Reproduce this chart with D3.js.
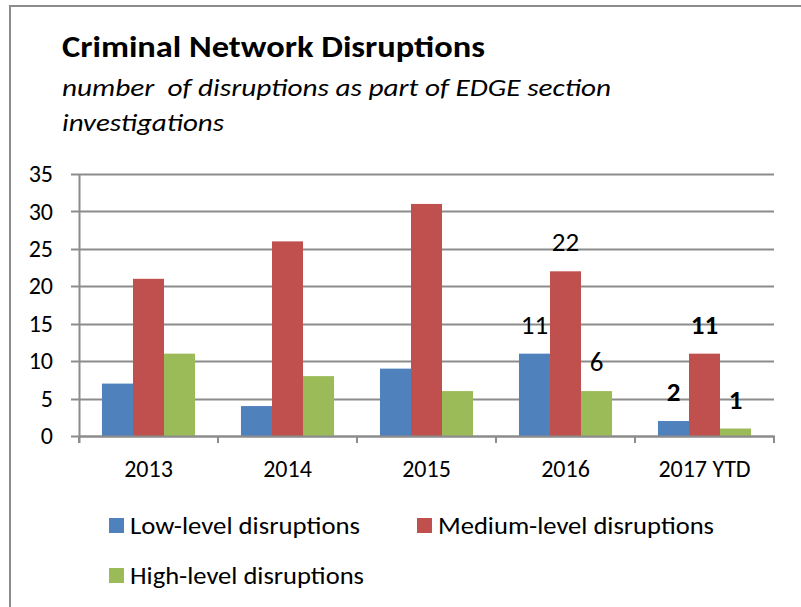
<!DOCTYPE html>
<html>
<head>
<meta charset="utf-8">
<script src="https://cdn.jsdelivr.net/npm/d3@7"></script>
<style>
  body { margin: 0; background: #fff; }
  svg text { font-family: Carlito, Calibri, "Open Sans", sans-serif; fill: #000; }
</style>
</head>
<body>
<div id="chart"></div>
<script>
// chart data
const years = ["2013", "2014", "2015", "2016", "2017 YTD"];
const seriesNames = ["Low-level disruptions", "Medium-level disruptions", "High-level disruptions"];
const lowLevel = [7, 4, 9, 11, 2];
const mediumLevel = [21, 26, 31, 22, 11];
const highLevel = [11, 8, 6, 6, 1];
const yTicks = [0, 5, 10, 15, 20, 25, 30, 35];
const colors = ["#4F81BD", "#C0504D", "#9BBB59"];

// which years get value labels, and whether they are bold
const labelledYears = [{ idx: 3, bold: false }, { idx: 4, bold: true }];

const W = 801, H = 607;
const plotLeft = 79, plotRight = 774, plotTop = 174, plotBottom = 436;

const svg = d3.select("#chart").append("svg")
  .attr("width", W).attr("height", H);

svg.append("rect").attr("width", W).attr("height", H).attr("fill", "#fff");

// outer frame (runs off the right and bottom edges)
svg.append("rect")
  .attr("x", 10).attr("y", 6)
  .attr("width", 900).attr("height", 800)
  .attr("fill", "none").attr("stroke", "#8c8c8c").attr("stroke-width", 2);

// title
svg.append("text")
  .attr("x", 62).attr("y", 57)
  .attr("font-size", 30).attr("font-weight", "bold")
  .attr("textLength", 423).attr("lengthAdjust", "spacingAndGlyphs")
  .text("Criminal Network Disruptions");
svg.append("text")
  .attr("x", 62).attr("y", 96)
  .attr("font-size", 24).attr("font-style", "italic")
  .attr("textLength", 549).attr("lengthAdjust", "spacingAndGlyphs")
  .style("white-space", "pre")
  .text("number  of disruptions as part of EDGE section");
svg.append("text")
  .attr("x", 62).attr("y", 131)
  .attr("font-size", 24).attr("font-style", "italic")
  .attr("textLength", 162).attr("lengthAdjust", "spacingAndGlyphs")
  .text("investigations");

// scales
const x0 = d3.scaleBand().domain(years).range([plotLeft, plotRight]);
const x1 = d3.scaleBand().domain(seriesNames).range([0, x0.bandwidth()]).paddingOuter(0.74);
const y = d3.scaleLinear().domain([0, 35]).range([plotBottom, plotTop]);

// gridlines
svg.append("g").selectAll("line").data(yTicks).join("line")
  .attr("x1", plotLeft - 8).attr("x2", plotRight)
  .attr("y1", d => Math.round(y(d)) + 0.5).attr("y2", d => Math.round(y(d)) + 0.5)
  .attr("stroke", "#8c8c8c").attr("stroke-width", 2);

// y axis labels
const yAxis = svg.append("g")
  .attr("transform", `translate(${plotLeft},0)`)
  .call(d3.axisLeft(y).tickValues(yTicks).tickSize(0).tickPadding(26));
yAxis.select(".domain").remove();
yAxis.selectAll("text").attr("font-size", 24).attr("fill", "#000")
  .style("font-family", 'Carlito, Calibri, "Open Sans", sans-serif');

// bars
const series = [lowLevel, mediumLevel, highLevel];
const groups = svg.append("g").selectAll("g").data(years).join("g")
  .attr("transform", d => `translate(${x0(d)},0)`);
groups.selectAll("rect")
  .data((d, i) => seriesNames.map((s, j) => ({ name: s, value: series[j][i], color: colors[j] })))
  .join("rect")
  .attr("x", d => x1(d.name))
  .attr("width", x1.bandwidth())
  .attr("y", d => y(d.value))
  .attr("height", d => y(0) - y(d.value))
  .attr("fill", d => d.color);

// value labels
labelledYears.forEach(l => {
  seriesNames.forEach((s, j) => {
    const v = series[j][l.idx];
    svg.append("text")
      .attr("x", x0(years[l.idx]) + x1(s) + x1.bandwidth() / 2)
      .attr("y", y(v) - 20)
      .attr("text-anchor", "middle")
      .attr("font-size", 27)
      .attr("font-weight", l.bold ? "bold" : "normal")
      .text(v);
  });
});

// x axis
const xAxisG = svg.append("g")
  .attr("transform", `translate(0,${plotBottom})`);
xAxisG.append("line")
  .attr("x1", plotLeft).attr("x2", plotRight + 1)
  .attr("y1", 0.5).attr("y2", 0.5)
  .attr("stroke", "#8c8c8c").attr("stroke-width", 2);
xAxisG.selectAll(".tk").data(d3.range(years.length + 1)).join("line")
  .attr("class", "tk")
  .attr("x1", i => plotLeft + i * x0.step()).attr("x2", i => plotLeft + i * x0.step())
  .attr("y1", 0).attr("y2", 7)
  .attr("stroke", "#8c8c8c").attr("stroke-width", 2);
xAxisG.selectAll(".lbl").data(years).join("text")
  .attr("class", "lbl")
  .attr("x", d => x0(d) + x0.bandwidth() / 2)
  .attr("y", 41)
  .attr("text-anchor", "middle")
  .attr("font-size", 24)
  .text(d => d);

// y axis line
svg.append("line")
  .attr("x1", plotLeft + 0.5).attr("x2", plotLeft + 0.5)
  .attr("y1", plotTop).attr("y2", plotBottom + 7)
  .attr("stroke", "#8c8c8c").attr("stroke-width", 2);

// legend
const legendPos = [{ x: 109, y: 518 }, { x: 417, y: 518 }, { x: 109, y: 568 }];
const legendW = [230, 276, 234];
const legend = svg.append("g").selectAll("g").data(seriesNames).join("g")
  .attr("transform", (d, i) => `translate(${legendPos[i].x},${legendPos[i].y})`);
legend.append("rect")
  .attr("width", 15).attr("height", 15)
  .attr("fill", (d, i) => colors[i]);
legend.append("text")
  .attr("x", 21).attr("y", 16)
  .attr("font-size", 24)
  .attr("textLength", (d, i) => legendW[i]).attr("lengthAdjust", "spacingAndGlyphs")
  .text(d => d);
</script>
</body>
</html>
